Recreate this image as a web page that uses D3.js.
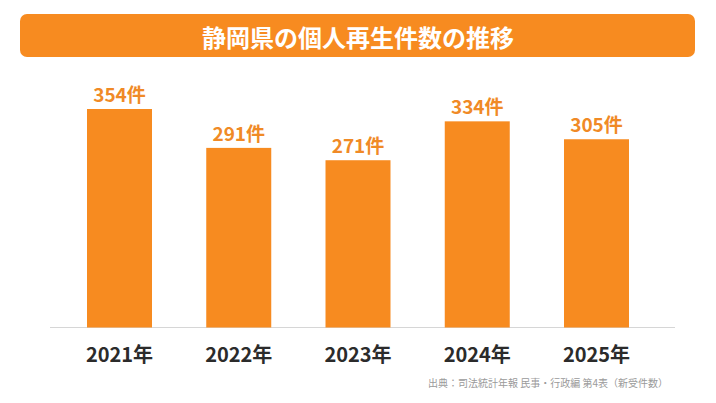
<!DOCTYPE html>
<html><head><meta charset="utf-8">
<script src="https://cdn.jsdelivr.net/npm/d3@7/dist/d3.min.js"></script>
<style>body{margin:0;background:#fff;}svg{display:block;font-family:"Noto Sans CJK JP","Noto Sans",sans-serif;}</style>
</head><body><svg id="c" width="716" height="403"></svg>
<script>
const categories = ["2021年","2022年","2023年","2024年","2025年"];
const values = [354, 291, 271, 334, 305];
const valueLabels = ["354件","291件","271件","334件","305件"];
const titleText = "静岡県の個人再生件数の推移";
const sourceText = "出典：司法統計年報 民事・行政編 第4表（新受件数）";

const svg = d3.select("#c");
const orange = "#F78B20";

svg.append("rect").attr("x",20).attr("y",14).attr("width",675).attr("height",43)
  .attr("rx",7).attr("fill",orange);
svg.append("text").attr("x",358).attr("y",36).attr("text-anchor","middle")
  .attr("dominant-baseline","central").attr("fill","#fff")
  .attr("font-size",24).attr("font-weight",700).text(titleText);

const x = d3.scaleBand().domain(categories).range([87, 629]).paddingInner(0.455).paddingOuter(0);
const y = d3.scaleLinear().domain([0, 354]).range([327.5, 109]);

svg.append("line").attr("x1",50).attr("x2",675).attr("y1",327.5).attr("y2",327.5)
  .attr("stroke","#d6d6d6").attr("stroke-width",1);

svg.selectAll("rect.bar").data(values).enter().append("rect").attr("class","bar")
  .attr("x",(d,i)=>x(categories[i])).attr("width",x.bandwidth())
  .attr("y",d=>y(d)).attr("height",d=>y(0)-y(d)).attr("fill",orange);

svg.selectAll("text.val").data(values).enter().append("text").attr("class","val")
  .attr("x",(d,i)=>x(categories[i])+x.bandwidth()/2).attr("y",d=>y(d)-7)
  .attr("text-anchor","middle").attr("fill","#F08A26").attr("font-size",19).attr("font-weight",700)
  .text((d,i)=>valueLabels[i]);

svg.selectAll("text.cat").data(categories).enter().append("text").attr("class","cat")
  .attr("x",d=>x(d)+x.bandwidth()/2).attr("y",362)
  .attr("text-anchor","middle").attr("fill","#2b2b2b").attr("font-size",20).attr("font-weight",700)
  .text(d=>d);

svg.append("text").attr("x",668).attr("y",387).attr("text-anchor","end")
  .attr("fill","#9a9a9a").attr("font-size",10).text(sourceText);
</script></body></html>
